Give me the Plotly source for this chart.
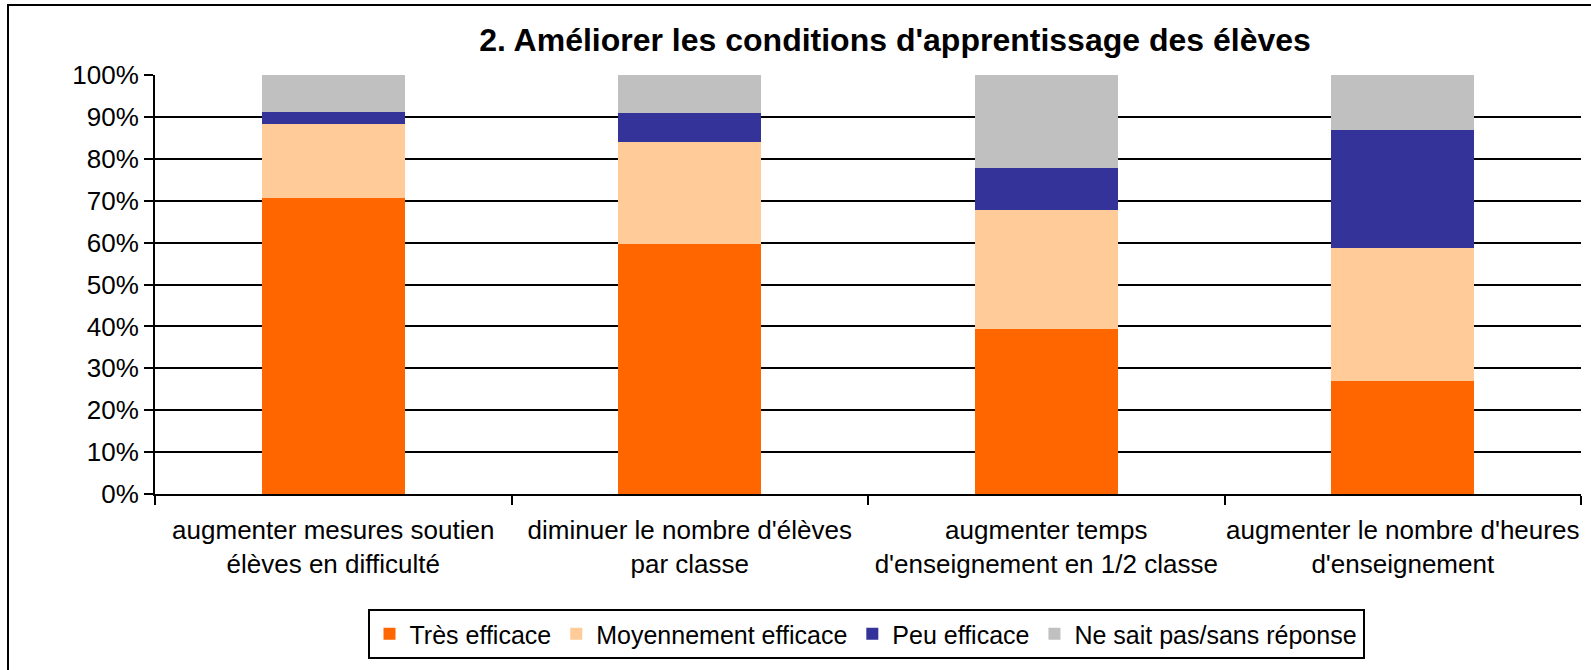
import plotly.graph_objects as go

categories = [
    "augmenter mesures soutien<br>élèves en difficulté",
    "diminuer le nombre d'élèves<br>par classe",
    "augmenter temps<br>d'enseignement en 1/2 classe",
    "augmenter le nombre d'heures<br>d'enseignement",
]
tres_efficace = [70.7, 59.7, 39.3, 27.0]
moyennement_efficace = [17.6, 24.2, 28.5, 31.8]
peu_efficace = [2.8, 7.1, 10.0, 28.1]
ne_sait_pas = [8.9, 9.0, 22.2, 13.1]

series_names = ["Très efficace", "Moyennement efficace", "Peu efficace", "Ne sait pas/sans réponse"]
series_values = [tres_efficace, moyennement_efficace, peu_efficace, ne_sait_pas]
series_colors = ["#FF6600", "#FFCC99", "#333399", "#C0C0C0"]

FONT = "Liberation Sans, Arial, sans-serif"

fig = go.Figure()
for name, vals, col in zip(series_names, series_values, series_colors):
    fig.add_trace(go.Bar(
        x=categories, y=vals, name=name,
        marker=dict(color=col, line=dict(width=0)),
    ))

W, H = 1591, 670
L, R, T, B = 155, 10, 75, 176
pw, ph = W - L - R, H - T - B

fig.update_layout(
    width=W, height=H, autosize=False,
    template="none",
    barmode="stack", bargap=0.6,
    margin=dict(l=L, r=R, t=T, b=B, pad=0, autoexpand=False),
    paper_bgcolor="white", plot_bgcolor="white",
    font=dict(family=FONT, size=24, color="black"),
    title=dict(
        text="<b>2. Améliorer les conditions d'apprentissage des élèves</b>",
        x=895 / W, xanchor="center", y=1 - 40 / H, yanchor="middle",
        font=dict(family=FONT, size=32, color="black"),
        automargin=False,
    ),
    showlegend=True,
    legend=dict(
        orientation="h", x=0.4986, xanchor="center",
        y=(T + ph - 609) / ph, yanchor="top",
        bordercolor="black", borderwidth=2, bgcolor="white",
        font=dict(family=FONT, size=25, color="black"),
        traceorder="normal", itemsizing="constant",
    ),
    xaxis=dict(
        type="category", tickson="boundaries",
        ticks="outside", ticklen=9, tickwidth=1.5, tickcolor="black",
        showline=True, linecolor="black", linewidth=2,
        showgrid=False, tickfont=dict(family=FONT, size=26, color="black"),
        range=[-0.5, 3.5], ticklabelstandoff=12, tickangle=0,
        automargin=False,
    ),
    yaxis=dict(
        range=[0, 100], tickvals=list(range(0, 101, 10)),
        ticktext=[f"{v}%" for v in range(0, 101, 10)],
        ticks="outside", ticklen=9, tickwidth=1.5, tickcolor="black",
        showline=True, linecolor="black", linewidth=2,
        showgrid=True, gridcolor="black", gridwidth=2,
        zeroline=False, tickfont=dict(family=FONT, size=26, color="black"),
        ticklabelstandoff=0, automargin=False,
    ),
    shapes=[dict(
        type="rect", xref="paper", yref="paper",
        x0=(8 - L) / pw, x1=1.2, y0=-0.7, y1=(T + ph - 5) / ph,
        line=dict(color="black", width=2), fillcolor="rgba(0,0,0,0)",
        layer="above",
    )],
)

fig.write_html(
    "out.html",
    config={"displayModeBar": False},
    post_script="document.body.style.margin='0';document.body.style.overflow='hidden';",
)
